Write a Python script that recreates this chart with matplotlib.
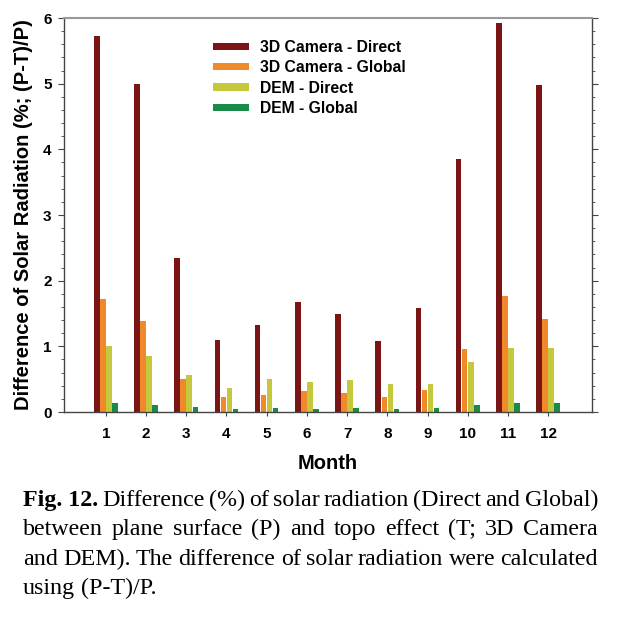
import matplotlib
matplotlib.use('Agg')
import matplotlib.pyplot as plt
import numpy as np
from matplotlib.ticker import MultipleLocator

months = [1, 2, 3, 4, 5, 6, 7, 8, 9, 10, 11, 12]
cam_direct = [5.72, 5.00, 2.35, 1.10, 1.33, 1.67, 1.50, 1.08, 1.58, 3.85, 5.92, 4.98]
cam_global = [1.72, 1.39, 0.50, 0.23, 0.26, 0.32, 0.29, 0.23, 0.33, 0.96, 1.77, 1.42]
dem_direct = [1.00, 0.85, 0.57, 0.36, 0.50, 0.45, 0.49, 0.42, 0.43, 0.76, 0.98, 0.98]
dem_global = [0.13, 0.10, 0.07, 0.04, 0.06, 0.04, 0.06, 0.04, 0.06, 0.10, 0.13, 0.14]

series = [
    ("3D Camera - Direct", cam_direct, "#7b1414"),
    ("3D Camera - Global", cam_global, "#f0892a"),
    ("DEM - Direct", dem_direct, "#c5c83c"),
    ("DEM - Global", dem_global, "#198a48"),
]

caption_lines = [
    "Difference (%) of solar radiation (Direct and Global)",
    "between plane surface (P) and topo effect (T; 3D Camera",
    "and DEM). The difference of solar radiation were calculated",
    "using (P-T)/P.",
]

plt.rcParams['font.family'] = ['Liberation Sans', 'DejaVu Sans']

fig = plt.figure(figsize=(6.17, 6.2), dpi=100)
ax = fig.add_axes([64 / 617, 1 - 412 / 620, 528 / 617, 394 / 620])

x = np.array(months, dtype=float)
w = 0.15
for i, (name, vals, col) in enumerate(series):
    ax.bar(x + (i - 1.5) * w, vals, width=w * 0.92, color=col, label=name)

ax.set_xlim(-0.04, 13.09)
ax.set_ylim(0, 6)
ax.set_xticks(months)
ax.yaxis.set_major_locator(MultipleLocator(1))
ax.yaxis.set_minor_locator(MultipleLocator(0.2))
ax.tick_params(axis='y', which='both', direction='out', right=True, labelright=False, color='#444')
ax.tick_params(axis='y', which='major', length=4, labelsize=11, pad=5)
ax.tick_params(axis='y', which='minor', length=2.5)
ax.tick_params(axis='x', length=3, labelsize=11, color='#444', pad=8)
for lab in ax.get_xticklabels() + ax.get_yticklabels():
    lab.set_fontweight('bold')
for s in ['left', 'bottom', 'right']:
    ax.spines[s].set_color('#444')
    ax.spines[s].set_linewidth(1.0)
ax.spines['top'].set_color('#999')
ax.spines['top'].set_linewidth(1.5)

ax.set_xlabel("Month", fontsize=14.5, fontweight='bold', labelpad=9)
ax.set_ylabel("Difference of Solar Radiation (%; (P-T)/P)", fontsize=14.5, fontweight='bold', labelpad=7)

ax.legend(loc='upper left', bbox_to_anchor=(0.262, 0.972), frameon=False,
          prop={'weight': 'bold', 'size': 11.3}, handlelength=2.3, handleheight=0.33,
          labelspacing=0.34, handletextpad=0.7, borderaxespad=0.3)

# caption, justified line by line
fig.canvas.draw()
renderer = fig.canvas.get_renderer()
left_px, right_px = 23, 598
line_y = [506, 535, 565, 594]
cap_font = dict(family='Liberation Serif', fontsize=17.3)


def text_width(t):
    bb = t.get_window_extent(renderer=renderer)
    return bb.width


for li, (line, ypx) in enumerate(zip(caption_lines, line_y)):
    words = line.split(' ')
    items = []
    if li == 0:
        items.append(("Fig. 12.", 'bold'))
    items += [(wd, 'normal') for wd in words]
    objs = []
    for wd, wt in items:
        t = fig.text(0, 1 - ypx / 620, wd, fontweight=wt, va='baseline', **cap_font)
        objs.append(t)
    widths = [text_width(t) for t in objs]
    if li < 3:
        gap = (right_px - left_px - sum(widths)) / (len(objs) - 1)
    else:
        sp = fig.text(0, 0, "a a", **cap_font)
        sp2 = fig.text(0, 0, "aa", **cap_font)
        gap = text_width(sp) - text_width(sp2)
        sp.remove()
        sp2.remove()
    xpos = left_px
    for t, wd in zip(objs, widths):
        t.set_x(xpos / 617)
        xpos += wd + gap

fig.savefig("out.png", dpi=100)
